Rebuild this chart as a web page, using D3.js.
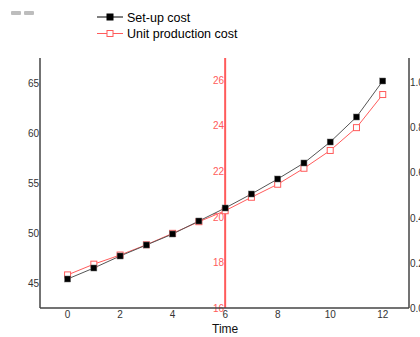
<!DOCTYPE html>
<html>
<head>
<meta charset="utf-8">
<script src="https://cdn.jsdelivr.net/npm/d3@7"></script>
<style>
  body { margin: 0; background: #fff; }
  svg { display: block; font-family: "Liberation Sans", Arial, sans-serif; }
</style>
</head>
<body>
<svg width="420" height="337"></svg>
<script>
var times = [0, 1, 2, 3, 4, 5, 6, 7, 8, 9, 10, 11, 12];
var setupCost = [45.4, 46.5, 47.7, 48.8, 49.9, 51.2, 52.5, 53.9, 55.4, 57.0, 59.1, 61.6, 65.2];
var unitCost = [17.45, 17.92, 18.32, 18.77, 19.27, 19.78, 20.26, 20.85, 21.42, 22.12, 22.9, 23.9, 25.35];

var xTicks = [0, 2, 4, 6, 8, 10, 12];
var leftTicks = [45, 50, 55, 60, 65];
var rightTicks = [0, 0.2, 0.4, 0.6, 0.8, 1.0];
var redTicks = [16, 18, 20, 22, 24, 26];
var seriesNames = ["Set-up cost", "Unit production cost"];

var svg = d3.select("svg");

var plot_left = 40, plot_right = 409, plot_top = 58, plot_bottom = 308;
var red_axis_at = 6;

var x = d3.scaleLinear().domain([-1.05, 13]).range([plot_left, plot_right]);
var yLeft = d3.scaleLinear().domain([42.5, 67.5]).range([plot_bottom, plot_top]);
var yRight = d3.scaleLinear().domain([0, 1.107]).range([plot_bottom, plot_top]);
var yRed = d3.scaleLinear().domain([16, 26.95]).range([plot_bottom, plot_top]);

var axisColor = "#444";
var red = "#ff5b5b";

// little toolbar thing in the corner
svg.selectAll(".tb").data([11, 24]).enter().append("rect")
  .attr("x", function(d) { return d; })
  .attr("y", 11)
  .attr("width", 10)
  .attr("height", 4)
  .attr("rx", 1)
  .attr("fill", "#bdbdbd");

// red axis in the middle (behind the series)
svg.append("line")
  .attr("x1", x(red_axis_at)).attr("x2", x(red_axis_at))
  .attr("y1", plot_top).attr("y2", plot_bottom)
  .attr("stroke", red)
  .attr("stroke-width", 2);

svg.selectAll(".red-tick").data(redTicks).enter().append("text")
  .attr("class", "red-tick")
  .attr("x", x(red_axis_at) - 1)
  .attr("y", function(d) { return yRed(d) + 4; })
  .attr("text-anchor", "end")
  .attr("font-size", "10px")
  .attr("fill", red)
  .text(function(d) { return d; });

// main axes
svg.append("line")
  .attr("x1", plot_left).attr("x2", plot_left)
  .attr("y1", plot_top).attr("y2", plot_bottom)
  .attr("stroke", axisColor).attr("stroke-width", 1.5);
svg.append("line")
  .attr("x1", plot_right).attr("x2", plot_right)
  .attr("y1", plot_top).attr("y2", plot_bottom)
  .attr("stroke", axisColor).attr("stroke-width", 1.5);
svg.append("line")
  .attr("x1", plot_left).attr("x2", plot_right)
  .attr("y1", plot_bottom).attr("y2", plot_bottom)
  .attr("stroke", axisColor).attr("stroke-width", 1.5);

svg.selectAll(".left-tick").data(leftTicks).enter().append("text")
  .attr("x", plot_left - 1)
  .attr("y", function(d) { return yLeft(d) + 4; })
  .attr("text-anchor", "end")
  .attr("font-size", "10px")
  .attr("fill", "#333")
  .text(function(d) { return d; });

svg.selectAll(".right-tick").data(rightTicks).enter().append("text")
  .attr("x", plot_right + 1)
  .attr("y", function(d) { return yRight(d) + 4; })
  .attr("font-size", "10px")
  .attr("fill", "#333")
  .text(function(d) { return d.toFixed(1); });

svg.selectAll(".x-tick").data(xTicks).enter().append("text")
  .attr("x", function(d) { return x(d); })
  .attr("y", plot_bottom + 10)
  .attr("text-anchor", "middle")
  .attr("font-size", "10px")
  .attr("fill", "#333")
  .text(function(d) { return d; });

svg.append("text")
  .attr("x", x(6))
  .attr("y", 333)
  .attr("text-anchor", "middle")
  .attr("font-size", "12px")
  .attr("fill", "#111")
  .text("Time");

// series
var setupLine = d3.line()
  .x(function(d, i) { return x(times[i]); })
  .y(function(d) { return yLeft(d); });
var unitLine = d3.line()
  .x(function(d, i) { return x(times[i]); })
  .y(function(d) { return yRed(d); });

svg.append("path")
  .datum(unitCost)
  .attr("d", unitLine)
  .attr("fill", "none")
  .attr("stroke", red)
  .attr("stroke-width", 1);

svg.append("path")
  .datum(setupCost)
  .attr("d", setupLine)
  .attr("fill", "none")
  .attr("stroke", "#555")
  .attr("stroke-width", 1);

var sq = 6;
svg.selectAll(".unit-pt").data(unitCost).enter().append("rect")
  .attr("x", function(d, i) { return x(times[i]) - sq / 2; })
  .attr("y", function(d) { return yRed(d) - sq / 2; })
  .attr("width", sq).attr("height", sq)
  .attr("fill", "#fff")
  .attr("stroke", red)
  .attr("stroke-width", 1);

svg.selectAll(".setup-pt").data(setupCost).enter().append("rect")
  .attr("x", function(d, i) { return x(times[i]) - sq / 2; })
  .attr("y", function(d) { return yLeft(d) - sq / 2; })
  .attr("width", sq).attr("height", sq)
  .attr("fill", "#000")
  .attr("stroke", "#666")
  .attr("stroke-width", 0.5);

// legend
var legend = svg.append("g");
var legendRows = legend.selectAll("g").data(seriesNames).enter().append("g")
  .attr("transform", function(d, i) { return "translate(0," + (17 + i * 16.5) + ")"; });

legendRows.append("line")
  .attr("x1", 97).attr("x2", 123)
  .attr("y1", 0).attr("y2", 0)
  .attr("stroke", function(d, i) { return i == 0 ? "#000" : red; })
  .attr("stroke-width", 1);

legendRows.append("rect")
  .attr("x", 110 - sq / 2).attr("y", -sq / 2)
  .attr("width", sq).attr("height", sq)
  .attr("fill", function(d, i) { return i == 0 ? "#000" : "#fff"; })
  .attr("stroke", function(d, i) { return i == 0 ? "#000" : red; })
  .attr("stroke-width", 1);

legendRows.append("text")
  .attr("x", 127)
  .attr("y", 4.5)
  .attr("font-size", "12.5px")
  .attr("fill", "#000")
  .text(function(d) { return d; });
</script>
</body>
</html>
